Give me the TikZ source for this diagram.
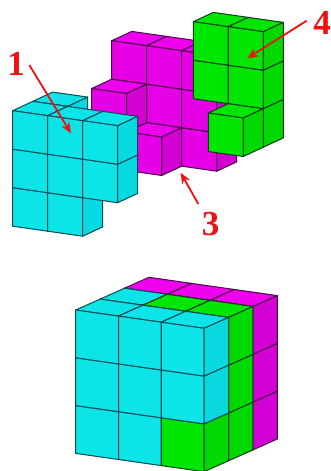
\documentclass[tikz,border=0pt]{standalone}
\usepackage{fontspec}
\setmainfont{Liberation Serif}
\usetikzlibrary{arrows.meta}
\definecolor{ctop}{HTML}{0CE4E8}\definecolor{cfront}{HTML}{0CE4E8}\definecolor{cright}{HTML}{08D8E0}\definecolor{cline}{HTML}{0A4A55}
\definecolor{mtop}{HTML}{EE00EE}\definecolor{mfront}{HTML}{E600E6}\definecolor{mright}{HTML}{D200D2}\definecolor{mline}{HTML}{4A0A4A}
\definecolor{gtop}{HTML}{00E600}\definecolor{gfront}{HTML}{00E600}\definecolor{gright}{HTML}{00D800}\definecolor{gline}{HTML}{0A4014}
\definecolor{redlabel}{HTML}{F01010}
\newcommand{\cubeat}[4]{%
  \filldraw[draw=#4line,fill=#4top,cubeedge] (#1,#2,#3) -- (#1+1,#2,#3) -- (#1+1,#2,#3+1) -- (#1,#2,#3+1) -- cycle;
  \filldraw[draw=#4line,fill=#4front,cubeedge] (#1,#2,#3) -- (#1+1,#2,#3) -- (#1+1,#2+1,#3) -- (#1,#2+1,#3) -- cycle;
  \filldraw[draw=#4line,fill=#4right,cubeedge] (#1+1,#2,#3) -- (#1+1,#2,#3+1) -- (#1+1,#2+1,#3+1) -- (#1+1,#2+1,#3) -- cycle;
}
\tikzset{
  cubeedge/.style={line width=1pt,line join=round},
  explodedaxes/.style={x={(35pt,-5pt)},y={(0pt,-38.5pt)},z={(20pt,9.3pt)}},
  solidaxes/.style={x={(42.8pt,-6.1pt)},y={(0pt,-47.8pt)},z={(24.4pt,10.9pt)}},
  numlabel/.style={text=redlabel,font=\fontsize{35}{35}\selectfont\bfseries,inner sep=0pt},
  pointer/.style={draw=redlabel,line width=1.8pt,-{Stealth[length=11pt,width=9pt]}}
}
\begin{document}
\begin{tikzpicture}[x=1pt,y=1pt]
\useasboundingbox (0,0) rectangle (330,-471);
\fill[white] (0,0) rectangle (330,-471);
% magenta piece
\begin{scope}[shift={(111.7,-40.7)},explodedaxes]
\foreach \a/\r in {0/1,0/0,1/2,1/1,1/0,2/2,2/1,2/0}{\cubeat{\a}{\r}{0}{m}}
\cubeat{0}{1}{-1}{m}
\cubeat{1}{2}{-1}{m}
\end{scope}
% green piece
\begin{scope}[shift={(193.3,-21.7)},explodedaxes]
\foreach \a/\r in {0/1,0/0,1/2,1/1,1/0}{\cubeat{\a}{\r}{0}{g}}
\cubeat{1}{2}{-1}{g}
\end{scope}
% cyan piece
\begin{scope}[shift={(12.7,-110.7)},explodedaxes]
\cubeat{0}{0}{1}{c}
\foreach \a/\r in {0/2,0/1,0/0,1/2,1/1,1/0,2/1,2/0}{\cubeat{\a}{\r}{0}{c}}
\end{scope}
% assembled cube
\begin{scope}[shift={(75.7,-310)},solidaxes]
\foreach \a/\r in {0/0,1/0,2/2,2/1,2/0}{\cubeat{\a}{\r}{2}{m}}
\cubeat{0}{0}{1}{c}
\foreach \a/\r in {1/0,2/2,2/1,2/0}{\cubeat{\a}{\r}{1}{g}}
\foreach \a/\r in {0/2,0/1,0/0,1/2,1/1,1/0}{\cubeat{\a}{\r}{0}{c}}
\cubeat{2}{2}{0}{g}
\foreach \a/\r in {2/1,2/0}{\cubeat{\a}{\r}{0}{c}}
\end{scope}
% labels and pointers
\node[numlabel] (one) at (16,-64) {1};
\node[numlabel] (three) at (210.5,-224) {3};
\node[numlabel] (four) at (322,-23) {4};
\coordinate (onetail) at (29.3,-65);
\coordinate (onehead) at (71,-133.3);
\coordinate (threetail) at (198.3,-204);
\coordinate (threehead) at (180.7,-172.7);
\coordinate (fourtail) at (306.7,-20.7);
\coordinate (fourhead) at (247.3,-58.3);
\draw[pointer] (onetail) -- (onehead);
\draw[pointer] (threetail) -- (threehead);
\draw[pointer] (fourtail) -- (fourhead);
\end{tikzpicture}
\end{document}
